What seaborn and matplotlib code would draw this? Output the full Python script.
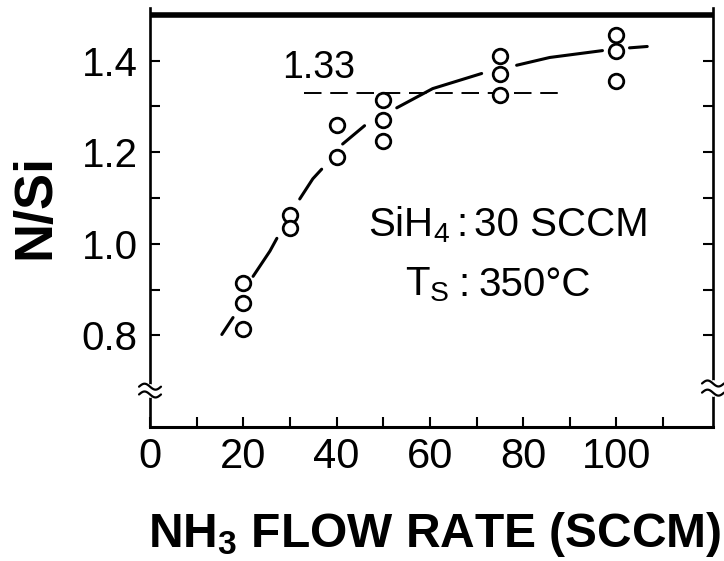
import numpy as np
import pandas as pd
import matplotlib
matplotlib.use("Agg")
import matplotlib.pyplot as plt
import seaborn as sns
from matplotlib.transforms import blended_transform_factory

# Measured N/Si composition ratio versus NH3 flow rate
nh3_flow = [20, 20, 20, 30, 30, 40, 40, 50, 50, 50, 75, 75, 75, 100, 100, 100]
n_si = [0.915, 0.870, 0.815, 1.064, 1.035, 1.259, 1.190, 1.315, 1.270, 1.225,
        1.411, 1.371, 1.325, 1.455, 1.422, 1.356]

# Hand-drawn trend curve, broken where it passes the data points
trend_x = [15.4, 17.8, 22.1, 25.7, 27.2, 32.1, 34.9, 36.8, 41.3, 46.0,
           52.9, 60.6, 71.1, 78.6, 85.7, 97.0, 102.8, 106.6]
trend_y = [0.802, 0.839, 0.929, 0.984, 1.012, 1.098, 1.142, 1.163, 1.218, 1.258,
           1.297, 1.339, 1.372, 1.390, 1.407, 1.422, 1.428, 1.431]
trend_seg = [1, 1, 2, 2, 2, 3, 3, 3, 4, 4, 5, 5, 5, 6, 6, 6, 7, 7]

# Stoichiometric Si3N4 reference level
ref_level = 1.33
ref_x = [33, 88]

x_ticks = [0, 10, 20, 30, 40, 50, 60, 70, 80, 90, 100, 110]
x_ticklabels = ["0", "", "20", "", "40", "", "60", "", "80", "", "100", ""]
y_ticks = [0.8, 0.9, 1.0, 1.1, 1.2, 1.3, 1.4]
y_ticklabels = ["0.8", "", "1.0", "", "1.2", "", "1.4"]

sns.set_theme(style="ticks")
plt.rcParams["font.family"] = ["Liberation Sans", "DejaVu Sans"]
plt.rcParams["mathtext.default"] = "regular"
for key in ("text.color", "axes.labelcolor", "xtick.color", "ytick.color",
            "axes.edgecolor"):
    plt.rcParams[key] = "black"

fig = plt.figure(figsize=(7.24, 5.61), dpi=100)
fig.patch.set_facecolor("white")
ax = fig.add_axes([0.2072, 0.2389, 0.7776, 0.7468])
ax.set_facecolor("white")

# trend curve
trend = pd.DataFrame({"x": trend_x, "y": trend_y, "seg": trend_seg})
sns.lineplot(data=trend, x="x", y="y", units="seg", estimator=None, sort=False,
             color="black", linewidth=2.2, ax=ax, zorder=2)

# reference level
ref = pd.DataFrame({"x": ref_x, "y": [ref_level, ref_level]})
sns.lineplot(data=ref, x="x", y="y", color="black", linewidth=1.4,
             linestyle=(0, (9, 4.5)), ax=ax, zorder=2)

# measured points
pts = pd.DataFrame({"flow": nh3_flow, "nsi": n_si})
sns.scatterplot(data=pts, x="flow", y="nsi", marker="o", s=110, color="white",
                edgecolor="black", linewidth=2.0, ax=ax, zorder=3)

ax.set_xlim(0, 120.7)
ax.set_ylim(0.6, 1.515)

# heavy top rule at 1.5
ax.axhline(1.5, color="black", linewidth=4, solid_capstyle="butt", zorder=4)

# frame
ax.spines["top"].set_visible(False)
for side, lw in (("left", 1.9), ("right", 1.9), ("bottom", 2.2)):
    ax.spines[side].set_linewidth(lw)
    ax.spines[side].set_color("black")

ax.set_xticks(x_ticks)
ax.set_xticklabels(x_ticklabels)
ax.set_yticks(y_ticks)
ax.set_yticklabels(y_ticklabels)
ax.tick_params(axis="x", direction="in", length=7, width=1.5, pad=7,
               labelsize=30, colors="black")
ax.tick_params(axis="y", direction="in", length=7, width=1.5, pad=9,
               labelsize=29, colors="black", right=True, left=True)

ax.set_xlabel(r"NH$_3$ FLOW RATE (SCCM)", fontsize=34.5, fontweight="bold")
ax.set_ylabel("N/Si", fontsize=39, fontweight="bold")
ax.xaxis.set_label_coords(0.505, -0.198)
ax.yaxis.set_label_coords(-0.160, 0.527)

# axis-break marks on both vertical spines
bt = blended_transform_factory(ax.transAxes, ax.transData)
u = np.linspace(-1, 1, 40)
for xc, y_lo, y_hi in ((0.0, 0.671, 0.688), (1.0, 0.675, 0.695)):
    ax.plot([xc, xc], [y_lo, y_hi], color="white", linewidth=5,
            transform=bt, clip_on=False, zorder=5)
    for yc in (y_lo, y_hi):
        ax.plot(xc + 0.0195 * u, yc - 0.0065 * np.sin(np.pi * u), color="black",
                linewidth=1.6, transform=bt, clip_on=False, zorder=6)

# annotations
ax.text(28.4, 1.362, "1.33", fontsize=27, ha="left", va="baseline")
ax.text(64.3, 1.017, r"SiH$_4$", fontsize=29, ha="right", va="baseline")
ax.text(66.8, 1.017, ":", fontsize=29, ha="center", va="baseline")
ax.text(69.4, 1.017, "30 SCCM", fontsize=29, ha="left", va="baseline")
ax.text(64.3, 0.887, r"T$_S$", fontsize=29, ha="right", va="baseline")
ax.text(67.3, 0.887, ":", fontsize=29, ha="center", va="baseline")
ax.text(70.4, 0.887, "350°C", fontsize=29, ha="left", va="baseline")

fig.savefig("out.png", dpi=100, facecolor="white")
